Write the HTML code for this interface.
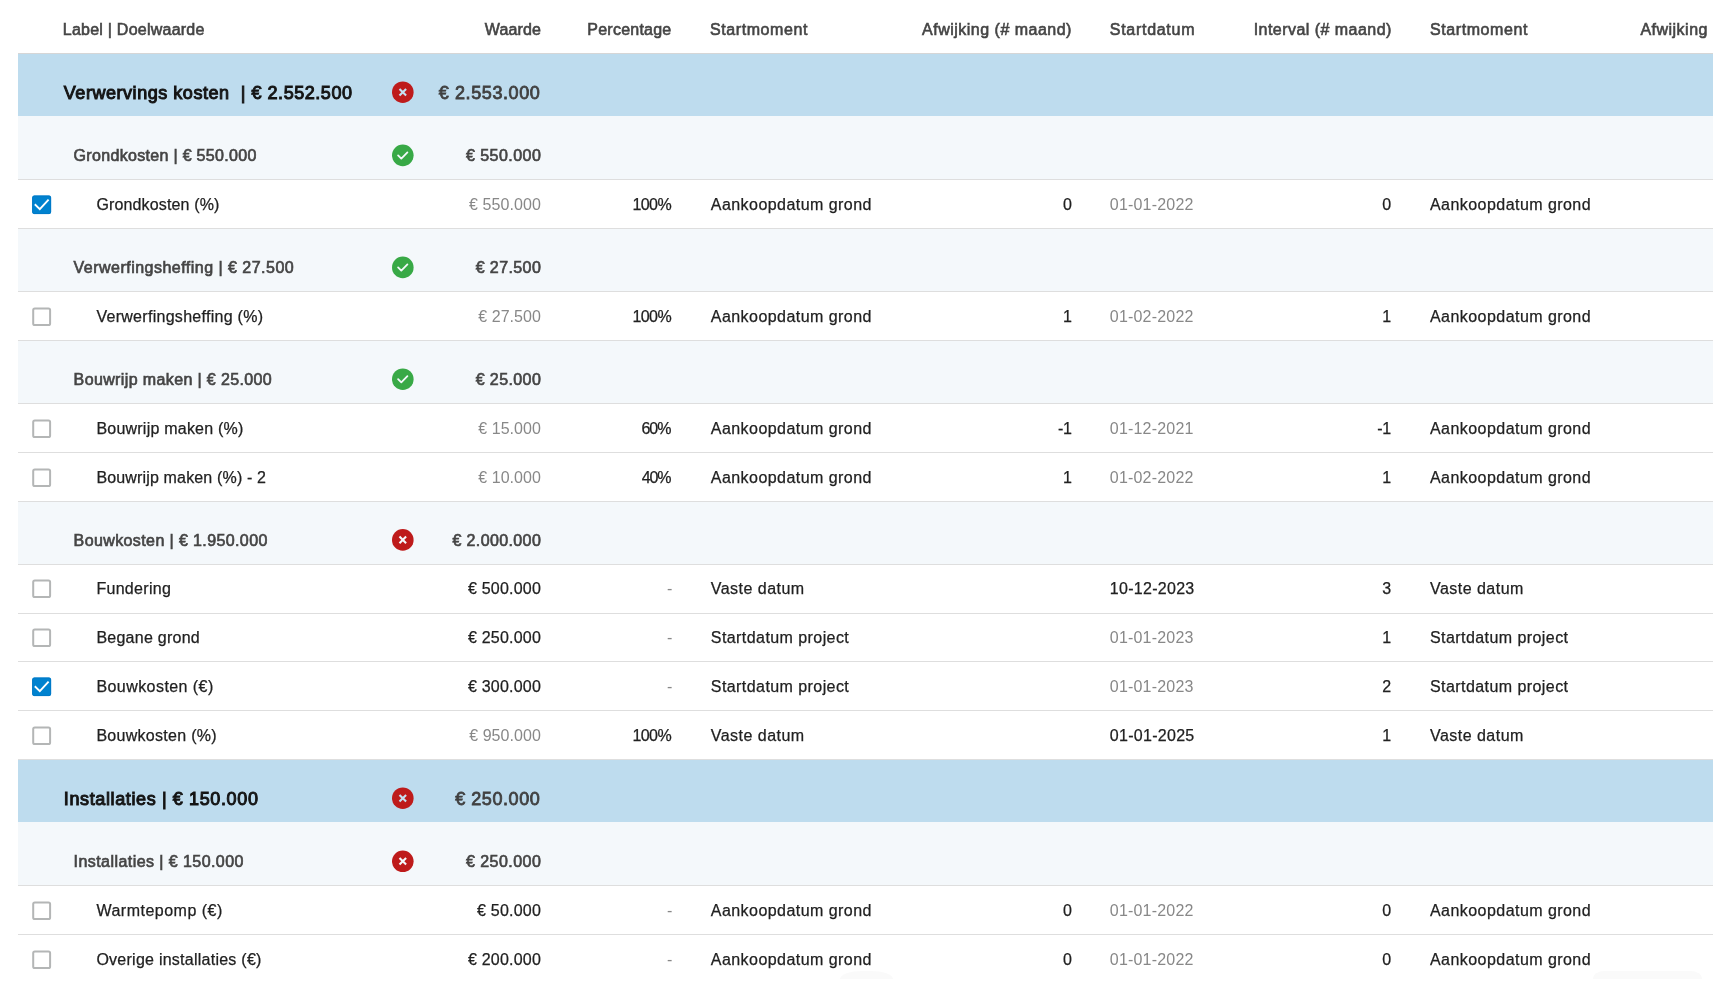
<!DOCTYPE html>
<html lang="nl"><head><meta charset="utf-8"><title>Kosten</title>
<style>
*{box-sizing:border-box;margin:0;padding:0}
html,body{width:1728px;height:987px;overflow:hidden;background:#fff}
body{font-family:"Liberation Sans",sans-serif;color:#212121;position:relative}
.t{position:absolute;left:18px;top:0;width:1695px;height:987px;overflow:hidden;will-change:transform}
.r{position:absolute;left:0;width:1695px}
.r.g{background:#bedcee}
.r.s{background:#f4f8fb}
.ln{position:absolute;left:0;width:1695px;height:1px;background:#dedede}
.x{position:absolute;white-space:nowrap;display:block}
.fb{position:absolute;top:970.5px;height:8.5px;background:#fafafa}
.cb{position:absolute;left:12px;width:24px;height:24px}
.ic{position:absolute;left:372px;width:26px;height:26px}
.h{font-size:16px;line-height:20px;font-weight:normal;color:#454545;-webkit-text-stroke:0.6px #454545;}
.gl{font-size:18px;line-height:22px;font-weight:normal;color:#141414;-webkit-text-stroke:1.0px #141414;}
.gv{font-size:18px;line-height:22px;font-weight:normal;color:#404040;-webkit-text-stroke:0.8px #404040;}
.sl{font-size:16px;line-height:20px;font-weight:normal;color:#454545;-webkit-text-stroke:0.65px #454545;}
.sv{font-size:16px;line-height:20px;font-weight:normal;color:#454545;-webkit-text-stroke:0.65px #454545;}
.il{font-size:16px;line-height:20px;font-weight:normal;color:#212121;-webkit-text-stroke:0.25px #212121;}
.iv{font-size:16px;line-height:20px;font-weight:normal;color:#212121;-webkit-text-stroke:0.25px #212121;}
.ig{font-size:16px;line-height:20px;font-weight:normal;color:#888888;}
</style></head>
<body>
<div class="t">
<div class="r hd" style="top:0;height:53px"></div>
<span class="x h" style="top:20px;left:44.80px;letter-spacing:0.235px;">Label | Doelwaarde</span><span class="x h" style="top:20px;right:1172.08px;letter-spacing:0.120px;">Waarde</span><span class="x h" style="top:20px;right:1041.58px;letter-spacing:0.222px;">Percentage</span><span class="x h" style="top:20px;left:692.00px;letter-spacing:0.580px;">Startmoment</span><span class="x h" style="top:20px;right:641.11px;letter-spacing:0.489px;">Afwijking (# maand)</span><span class="x h" style="top:20px;left:1091.80px;letter-spacing:0.711px;">Startdatum</span><span class="x h" style="top:20px;right:321.14px;letter-spacing:0.465px;">Interval (# maand)</span><span class="x h" style="top:20px;left:1412.00px;letter-spacing:0.580px;">Startmoment</span><span class="x h" style="top:20px;left:1622.40px;letter-spacing:0.489px;width:68px;overflow:hidden;">Afwijking (# maand)</span>
<div class="ln" style="top:53px;background:#d6d6d6"></div>
<div class="r g" style="top:54px;height:62px"><svg class="ic" style="top:25px" viewBox="0 0 26 26"><g transform="translate(1.8 2.2)"><circle cx="11" cy="11" r="10.8" fill="#be1b1b"/><path d="M7.7 7.7L14.3 14.3M14.3 7.7L7.7 14.3" stroke="#c6e1f1" stroke-width="2.1" fill="none"/></g></svg></div>
<span class="x gl" style="top:82px;left:45.80px;letter-spacing:0.541px;">Verwervings kosten&nbsp; | € 2.552.500</span><span class="x gv" style="top:82px;right:1172.61px;letter-spacing:0.590px;">€ 2.553.000</span>
<div class="r s" style="top:116px;height:63px"><svg class="ic" style="top:26px" viewBox="0 0 26 26"><g transform="translate(1.8 2.35)"><circle cx="11" cy="11" r="10.8" fill="#38a946"/><path d="M6.3 11L9.5 14.2L15.6 8" stroke="#f4f8fb" stroke-width="1.8" stroke-linecap="round" stroke-linejoin="round" fill="none"/></g></svg></div>
<span class="x sl" style="top:146px;left:55.60px;letter-spacing:0.314px;">Grondkosten | € 550.000</span><span class="x sv" style="top:146px;right:1171.75px;letter-spacing:0.450px;">€ 550.000</span>
<div class="ln" style="top:179px"></div>
<div class="r i" style="top:180px;height:48px"><svg class="cb" style="top:13px" viewBox="0 0 24 24"><rect x="2.2" y="2.6" width="18.9" height="18.5" rx="2" fill="#0082cf"/><rect x="2.7" y="3.1" width="17.9" height="17.5" rx="1.6" fill="none" stroke="#007ac7" stroke-width="1"/><path d="M4.8 11.3L9.8 16.1L18.6 6.6" stroke="#fff" stroke-width="1.9" fill="none"/></svg></div>
<span class="x il" style="top:195px;left:78.40px;letter-spacing:0.143px;">Grondkosten (%)</span><span class="x ig" style="top:195px;right:1172.12px;letter-spacing:0.075px;">€ 550.000</span><span class="x iv" style="top:195px;right:1042.03px;letter-spacing:-0.633px;">100%</span><span class="x il" style="top:195px;left:692.80px;letter-spacing:0.447px;">Aankoopdatum grond</span><span class="x iv" style="top:195px;right:641.50px;letter-spacing:-0.400px;">0</span><span class="x ig" style="top:195px;left:1091.80px;letter-spacing:0.200px;">01-01-2022</span><span class="x iv" style="top:195px;right:322.30px;letter-spacing:-0.400px;">0</span><span class="x il" style="top:195px;left:1412.00px;letter-spacing:0.447px;">Aankoopdatum grond</span>
<div class="ln" style="top:228px"></div>
<div class="r s" style="top:229px;height:62px"><svg class="ic" style="top:25px" viewBox="0 0 26 26"><g transform="translate(1.8 2.4)"><circle cx="11" cy="11" r="10.8" fill="#38a946"/><path d="M6.3 11L9.5 14.2L15.6 8" stroke="#f4f8fb" stroke-width="1.8" stroke-linecap="round" stroke-linejoin="round" fill="none"/></g></svg></div>
<span class="x sl" style="top:258px;left:55.60px;letter-spacing:0.479px;">Verwerfingsheffing | € 27.500</span><span class="x sv" style="top:258px;right:1171.80px;letter-spacing:0.400px;">€ 27.500</span>
<div class="ln" style="top:291px"></div>
<div class="r i" style="top:292px;height:48px"><svg class="cb" style="top:13px" viewBox="0 0 24 24"><rect x="3.2" y="3.5" width="16.9" height="16.6" rx="1.6" fill="#fff" stroke="#b4b6b6" stroke-width="2"/></svg></div>
<span class="x il" style="top:307px;left:78.40px;letter-spacing:0.286px;">Verwerfingsheffing (%)</span><span class="x ig" style="top:307px;right:1172.17px;letter-spacing:0.029px;">€ 27.500</span><span class="x iv" style="top:307px;right:1042.03px;letter-spacing:-0.633px;">100%</span><span class="x il" style="top:307px;left:692.80px;letter-spacing:0.447px;">Aankoopdatum grond</span><span class="x iv" style="top:307px;right:641.50px;letter-spacing:-0.400px;">1</span><span class="x ig" style="top:307px;left:1091.80px;letter-spacing:0.200px;">01-02-2022</span><span class="x iv" style="top:307px;right:322.30px;letter-spacing:-0.400px;">1</span><span class="x il" style="top:307px;left:1412.00px;letter-spacing:0.447px;">Aankoopdatum grond</span>
<div class="ln" style="top:340px"></div>
<div class="r s" style="top:341px;height:62px"><svg class="ic" style="top:25px" viewBox="0 0 26 26"><g transform="translate(1.8 2.2)"><circle cx="11" cy="11" r="10.8" fill="#38a946"/><path d="M6.3 11L9.5 14.2L15.6 8" stroke="#f4f8fb" stroke-width="1.8" stroke-linecap="round" stroke-linejoin="round" fill="none"/></g></svg></div>
<span class="x sl" style="top:370px;left:55.60px;letter-spacing:0.375px;">Bouwrijp maken | € 25.000</span><span class="x sv" style="top:370px;right:1171.80px;letter-spacing:0.400px;">€ 25.000</span>
<div class="ln" style="top:403px"></div>
<div class="r i" style="top:404px;height:48px"><svg class="cb" style="top:13px" viewBox="0 0 24 24"><rect x="3.2" y="3.5" width="16.9" height="16.6" rx="1.6" fill="#fff" stroke="#b4b6b6" stroke-width="2"/></svg></div>
<span class="x il" style="top:419px;left:78.40px;letter-spacing:0.224px;">Bouwrijp maken (%)</span><span class="x ig" style="top:419px;right:1172.17px;letter-spacing:0.029px;">€ 15.000</span><span class="x iv" style="top:419px;right:1042.30px;letter-spacing:-0.900px;">60%</span><span class="x il" style="top:419px;left:692.80px;letter-spacing:0.447px;">Aankoopdatum grond</span><span class="x iv" style="top:419px;right:641.50px;letter-spacing:-0.400px;">-1</span><span class="x ig" style="top:419px;left:1091.80px;letter-spacing:0.200px;">01-12-2021</span><span class="x iv" style="top:419px;right:322.30px;letter-spacing:-0.400px;">-1</span><span class="x il" style="top:419px;left:1412.00px;letter-spacing:0.447px;">Aankoopdatum grond</span>
<div class="ln" style="top:452px"></div>
<div class="r i" style="top:453px;height:48px"><svg class="cb" style="top:13px" viewBox="0 0 24 24"><rect x="3.2" y="3.5" width="16.9" height="16.6" rx="1.6" fill="#fff" stroke="#b4b6b6" stroke-width="2"/></svg></div>
<span class="x il" style="top:468px;left:78.40px;letter-spacing:0.157px;">Bouwrijp maken (%) - 2</span><span class="x ig" style="top:468px;right:1172.17px;letter-spacing:0.029px;">€ 10.000</span><span class="x iv" style="top:468px;right:1042.50px;letter-spacing:-1.100px;">40%</span><span class="x il" style="top:468px;left:692.80px;letter-spacing:0.447px;">Aankoopdatum grond</span><span class="x iv" style="top:468px;right:641.50px;letter-spacing:-0.400px;">1</span><span class="x ig" style="top:468px;left:1091.80px;letter-spacing:0.200px;">01-02-2022</span><span class="x iv" style="top:468px;right:322.30px;letter-spacing:-0.400px;">1</span><span class="x il" style="top:468px;left:1412.00px;letter-spacing:0.447px;">Aankoopdatum grond</span>
<div class="ln" style="top:501px"></div>
<div class="r s" style="top:502px;height:62px"><svg class="ic" style="top:24px" viewBox="0 0 26 26"><g transform="translate(1.8 2.9)"><circle cx="11" cy="11" r="10.8" fill="#be1b1b"/><path d="M7.7 7.7L14.3 14.3M14.3 7.7L7.7 14.3" stroke="#f4f8fb" stroke-width="2.1" fill="none"/></g></svg></div>
<span class="x sl" style="top:531px;left:55.60px;letter-spacing:0.391px;">Bouwkosten | € 1.950.000</span><span class="x sv" style="top:531px;right:1171.82px;letter-spacing:0.380px;">€ 2.000.000</span>
<div class="ln" style="top:564px"></div>
<div class="r i" style="top:565px;height:48px"><svg class="cb" style="top:12px" viewBox="0 0 24 24"><rect x="3.2" y="3.5" width="16.9" height="16.6" rx="1.6" fill="#fff" stroke="#b4b6b6" stroke-width="2"/></svg></div>
<span class="x il" style="top:579px;left:78.40px;letter-spacing:0.300px;">Fundering</span><span class="x iv" style="top:579px;right:1172.00px;letter-spacing:0.200px;">€ 500.000</span><span class="x ig" style="top:579px;right:1041.20px;letter-spacing:-0.400px;">-</span><span class="x il" style="top:579px;left:692.80px;letter-spacing:0.470px;">Vaste datum</span><span class="x iv" style="top:579px;left:1091.80px;letter-spacing:0.289px;">10-12-2023</span><span class="x iv" style="top:579px;right:322.30px;letter-spacing:-0.400px;">3</span><span class="x il" style="top:579px;left:1412.00px;letter-spacing:0.470px;">Vaste datum</span>
<div class="ln" style="top:613px"></div>
<div class="r i" style="top:614px;height:47px"><svg class="cb" style="top:12px" viewBox="0 0 24 24"><rect x="3.2" y="3.5" width="16.9" height="16.6" rx="1.6" fill="#fff" stroke="#b4b6b6" stroke-width="2"/></svg></div>
<span class="x il" style="top:628px;left:78.40px;letter-spacing:0.255px;">Begane grond</span><span class="x iv" style="top:628px;right:1172.00px;letter-spacing:0.200px;">€ 250.000</span><span class="x ig" style="top:628px;right:1041.20px;letter-spacing:-0.400px;">-</span><span class="x il" style="top:628px;left:692.80px;letter-spacing:0.429px;">Startdatum project</span><span class="x ig" style="top:628px;left:1091.80px;letter-spacing:0.200px;">01-01-2023</span><span class="x iv" style="top:628px;right:322.30px;letter-spacing:-0.400px;">1</span><span class="x il" style="top:628px;left:1412.00px;letter-spacing:0.429px;">Startdatum project</span>
<div class="ln" style="top:661px"></div>
<div class="r i" style="top:662px;height:48px"><svg class="cb" style="top:13px" viewBox="0 0 24 24"><rect x="2.2" y="2.6" width="18.9" height="18.5" rx="2" fill="#0082cf"/><rect x="2.7" y="3.1" width="17.9" height="17.5" rx="1.6" fill="none" stroke="#007ac7" stroke-width="1"/><path d="M4.8 11.3L9.8 16.1L18.6 6.6" stroke="#fff" stroke-width="1.9" fill="none"/></svg></div>
<span class="x il" style="top:677px;left:78.40px;letter-spacing:0.438px;">Bouwkosten (€)</span><span class="x iv" style="top:677px;right:1172.00px;letter-spacing:0.200px;">€ 300.000</span><span class="x ig" style="top:677px;right:1041.20px;letter-spacing:-0.400px;">-</span><span class="x il" style="top:677px;left:692.80px;letter-spacing:0.429px;">Startdatum project</span><span class="x ig" style="top:677px;left:1091.80px;letter-spacing:0.200px;">01-01-2023</span><span class="x iv" style="top:677px;right:322.30px;letter-spacing:-0.400px;">2</span><span class="x il" style="top:677px;left:1412.00px;letter-spacing:0.429px;">Startdatum project</span>
<div class="ln" style="top:710px"></div>
<div class="r i" style="top:711px;height:48px"><svg class="cb" style="top:13px" viewBox="0 0 24 24"><rect x="3.2" y="3.5" width="16.9" height="16.6" rx="1.6" fill="#fff" stroke="#b4b6b6" stroke-width="2"/></svg></div>
<span class="x il" style="top:726px;left:78.40px;letter-spacing:0.285px;">Bouwkosten (%)</span><span class="x ig" style="top:726px;right:1172.15px;letter-spacing:0.050px;">€ 950.000</span><span class="x iv" style="top:726px;right:1042.03px;letter-spacing:-0.633px;">100%</span><span class="x il" style="top:726px;left:692.80px;letter-spacing:0.470px;">Vaste datum</span><span class="x iv" style="top:726px;left:1091.80px;letter-spacing:0.289px;">01-01-2025</span><span class="x iv" style="top:726px;right:322.30px;letter-spacing:-0.400px;">1</span><span class="x il" style="top:726px;left:1412.00px;letter-spacing:0.470px;">Vaste datum</span>
<div class="ln" style="top:759px"></div>
<div class="r g" style="top:760px;height:62px"><svg class="ic" style="top:25px" viewBox="0 0 26 26"><g transform="translate(1.8 2.2)"><circle cx="11" cy="11" r="10.8" fill="#be1b1b"/><path d="M7.7 7.7L14.3 14.3M14.3 7.7L7.7 14.3" stroke="#c6e1f1" stroke-width="2.1" fill="none"/></g></svg></div>
<span class="x gl" style="top:788px;left:45.80px;letter-spacing:0.622px;">Installaties | € 150.000</span><span class="x gv" style="top:788px;right:1172.62px;letter-spacing:0.575px;">€ 250.000</span>
<div class="r s" style="top:822px;height:63px"><svg class="ic" style="top:26px" viewBox="0 0 26 26"><g transform="translate(1.8 2.3)"><circle cx="11" cy="11" r="10.8" fill="#be1b1b"/><path d="M7.7 7.7L14.3 14.3M14.3 7.7L7.7 14.3" stroke="#f4f8fb" stroke-width="2.1" fill="none"/></g></svg></div>
<span class="x sl" style="top:852px;left:55.60px;letter-spacing:0.435px;">Installaties | € 150.000</span><span class="x sv" style="top:852px;right:1171.75px;letter-spacing:0.450px;">€ 250.000</span>
<div class="ln" style="top:885px"></div>
<div class="r i" style="top:886px;height:48px"><svg class="cb" style="top:13px" viewBox="0 0 24 24"><rect x="3.2" y="3.5" width="16.9" height="16.6" rx="1.6" fill="#fff" stroke="#b4b6b6" stroke-width="2"/></svg></div>
<span class="x il" style="top:901px;left:78.40px;letter-spacing:0.500px;">Warmtepomp (€)</span><span class="x iv" style="top:901px;right:1172.00px;letter-spacing:0.200px;">€ 50.000</span><span class="x ig" style="top:901px;right:1041.20px;letter-spacing:-0.400px;">-</span><span class="x il" style="top:901px;left:692.80px;letter-spacing:0.447px;">Aankoopdatum grond</span><span class="x iv" style="top:901px;right:641.50px;letter-spacing:-0.400px;">0</span><span class="x ig" style="top:901px;left:1091.80px;letter-spacing:0.200px;">01-01-2022</span><span class="x iv" style="top:901px;right:322.30px;letter-spacing:-0.400px;">0</span><span class="x il" style="top:901px;left:1412.00px;letter-spacing:0.447px;">Aankoopdatum grond</span>
<div class="ln" style="top:934px"></div>
<div class="r i" style="top:935px;height:52px"><svg class="cb" style="top:13px" viewBox="0 0 24 24"><rect x="3.2" y="3.5" width="16.9" height="16.6" rx="1.6" fill="#fff" stroke="#b4b6b6" stroke-width="2"/></svg></div>
<span class="x il" style="top:950px;left:78.40px;letter-spacing:0.252px;">Overige installaties (€)</span><span class="x iv" style="top:950px;right:1172.00px;letter-spacing:0.200px;">€ 200.000</span><span class="x ig" style="top:950px;right:1041.20px;letter-spacing:-0.400px;">-</span><span class="x il" style="top:950px;left:692.80px;letter-spacing:0.447px;">Aankoopdatum grond</span><span class="x iv" style="top:950px;right:641.50px;letter-spacing:-0.400px;">0</span><span class="x ig" style="top:950px;left:1091.80px;letter-spacing:0.200px;">01-01-2022</span><span class="x iv" style="top:950px;right:322.30px;letter-spacing:-0.400px;">0</span><span class="x il" style="top:950px;left:1412.00px;letter-spacing:0.447px;">Aankoopdatum grond</span>
</div>
<div class="fb" style="left:840px;width:52.5px;border-radius:24px 24px 0 0/8.5px 8.5px 0 0"></div>
<div class="fb" style="left:1593px;width:109px;border-radius:12px 12px 0 0/8.5px 8.5px 0 0"></div>
</body></html>
